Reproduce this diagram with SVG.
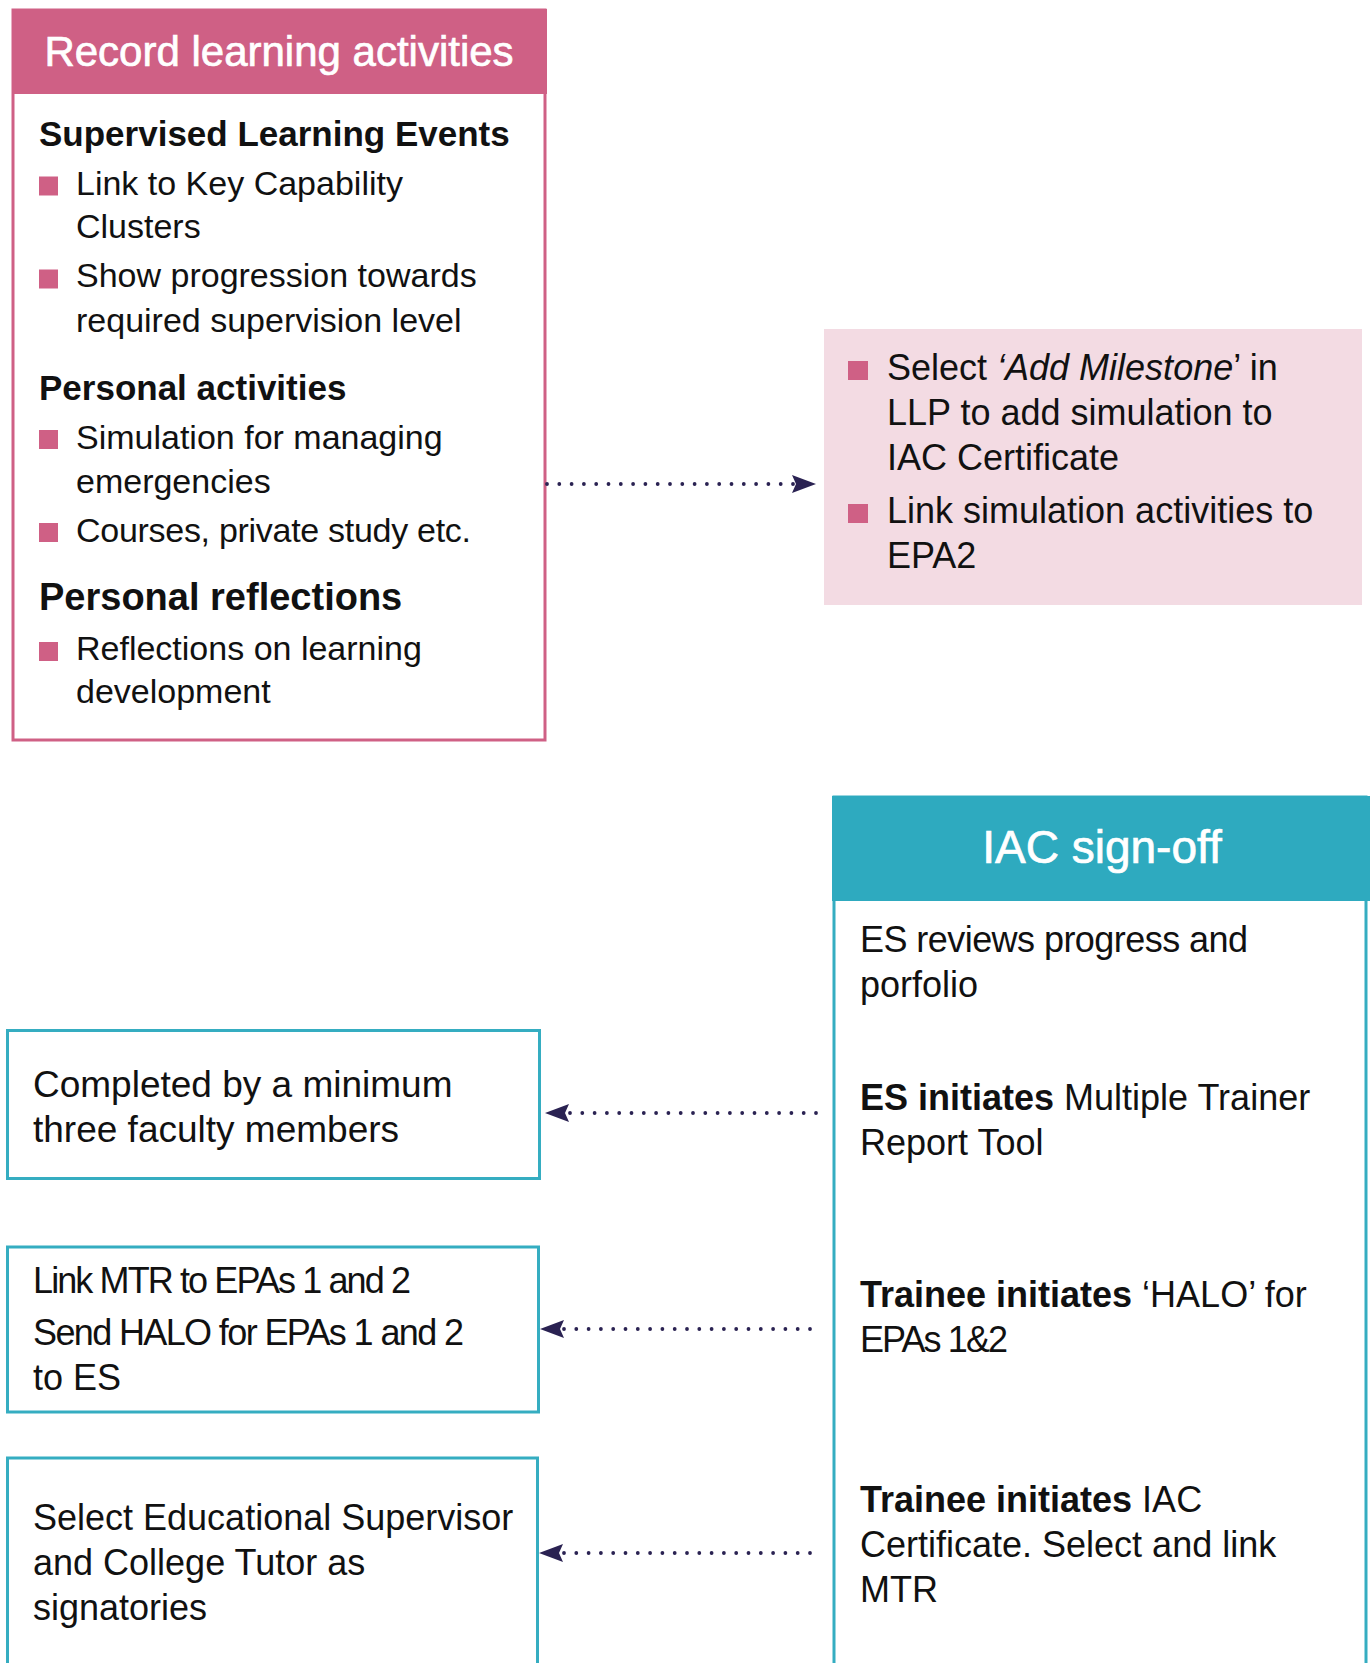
<svg xmlns="http://www.w3.org/2000/svg" width="1370" height="1663" viewBox="0 0 1370 1663">
  <style>
    text { font-family: "Liberation Sans", Arial, sans-serif; fill: #111; }
    .hdr { fill: #ffffff; text-anchor: middle; stroke: #ffffff; stroke-width: 0.7; }
    .h { font-weight: bold; }
    .b34 { font-size: 34px; }
    .b36 { font-size: 36px; }
    .bullet { fill: #cf6085; }
    .pinkbox { fill: #ffffff; stroke: #cf6085; stroke-width: 3; }
    .tealbox { fill: #ffffff; stroke: #35adc1; stroke-width: 3; }
    .conn { fill: none; stroke: #2a2252; stroke-width: 3.8; stroke-linecap: round; stroke-dasharray: 0 12.3; }
  </style>
  <defs>
    <marker id="arrow" markerUnits="userSpaceOnUse" markerWidth="25" markerHeight="19" refX="2" refY="9" orient="auto" viewBox="0 0 25 18">
      <path d="M0,0 L24,9 L0,18 L4,9 Z" fill="#2a2252"/>
    </marker>
  </defs>

  <rect width="1370" height="1663" fill="#ffffff"/>

  <g id="record-learning">
    <rect class="pinkbox" x="13" y="10" width="532" height="730"/>
    <rect x="12" y="9" width="535" height="85" fill="#cf6085"/>
    <text class="hdr" x="279" y="66" font-size="42">Record learning activities</text>
    <text class="h" x="39" y="146" font-size="35">Supervised Learning Events</text>
    <rect class="bullet" x="39" y="176.5" width="19" height="19"/>
    <text class="b34" x="76" y="195">Link to Key Capability</text>
    <text class="b34" x="76" y="238">Clusters</text>
    <rect class="bullet" x="39" y="269.5" width="19" height="19"/>
    <text class="b34" x="76" y="287">Show progression towards</text>
    <text class="b34" x="76" y="332">required supervision level</text>
    <text class="h" x="39" y="400" font-size="35">Personal activities</text>
    <rect class="bullet" x="39" y="430" width="19" height="19"/>
    <text class="b34" x="76" y="449">Simulation for managing</text>
    <text class="b34" x="76" y="493">emergencies</text>
    <rect class="bullet" x="39" y="523" width="19" height="19"/>
    <text class="b34" x="76" y="542" textLength="395" lengthAdjust="spacing">Courses, private study etc.</text>
    <text class="h" x="39" y="610" font-size="38">Personal reflections</text>
    <rect class="bullet" x="39" y="642" width="19" height="19"/>
    <text class="b34" x="76" y="660">Reflections on learning</text>
    <text class="b34" x="76" y="703">development</text>
  </g>

  <g id="add-milestone">
    <rect x="824" y="329" width="538" height="276" fill="#f3dbe3"/>
    <rect class="bullet" x="848" y="361" width="20" height="19"/>
    <text class="b36" x="887" y="380">Select <tspan font-style="italic">‘Add Milestone</tspan>’ in</text>
    <text class="b36" x="887" y="425">LLP to add simulation to</text>
    <text class="b36" x="887" y="470">IAC Certificate</text>
    <rect class="bullet" x="848" y="504" width="20" height="19"/>
    <text class="b36" x="887" y="523">Link simulation activities to</text>
    <text class="b36" x="887" y="568">EPA2</text>
  </g>

  <g id="iac-signoff">
    <rect class="tealbox" x="834" y="797" width="532" height="900"/>
    <rect x="832" y="796" width="540" height="105" fill="#2eaabf"/>
    <text class="hdr" x="1102" y="863" font-size="46">IAC sign-off</text>
    <text class="b36" x="860" y="952" textLength="388" lengthAdjust="spacing">ES reviews progress and</text>
    <text class="b36" x="860" y="997">porfolio</text>
    <text class="b36" x="860" y="1110"><tspan class="h">ES initiates</tspan> Multiple Trainer</text>
    <text class="b36" x="860" y="1155">Report Tool</text>
    <text class="b36" x="860" y="1307"><tspan class="h">Trainee initiates</tspan> ‘HALO’ for</text>
    <text class="b36" x="860" y="1352" textLength="148" lengthAdjust="spacing">EPAs 1&amp;2</text>
    <text class="b36" x="860" y="1512"><tspan class="h">Trainee initiates</tspan> IAC</text>
    <text class="b36" x="860" y="1557">Certificate. Select and link</text>
    <text class="b36" x="860" y="1602">MTR</text>
  </g>

  <g id="faculty">
    <rect class="tealbox" x="7.5" y="1030.5" width="532" height="148"/>
    <text x="33" y="1097" font-size="37">Completed by a minimum</text>
    <text x="33" y="1142" font-size="37">three faculty members</text>
  </g>

  <g id="link-mtr">
    <rect class="tealbox" x="7.5" y="1247" width="531" height="165"/>
    <text class="b36" x="33" y="1293" textLength="378" lengthAdjust="spacing">Link MTR to EPAs 1 and 2</text>
    <text class="b36" x="33" y="1345" textLength="431" lengthAdjust="spacing">Send HALO for EPAs 1 and 2</text>
    <text class="b36" x="33" y="1390">to ES</text>
  </g>

  <g id="signatories">
    <rect class="tealbox" x="7.5" y="1458" width="530" height="300"/>
    <text class="b36" x="33" y="1530">Select Educational Supervisor</text>
    <text class="b36" x="33" y="1575">and College Tutor as</text>
    <text class="b36" x="33" y="1620">signatories</text>
  </g>

  <g id="connectors">
    <line class="conn" x1="547" y1="484" x2="794" y2="484" marker-end="url(#arrow)"/>
    <line class="conn" x1="816" y1="1113" x2="567" y2="1113" marker-end="url(#arrow)"/>
    <line class="conn" x1="810" y1="1329" x2="562" y2="1329" marker-end="url(#arrow)"/>
    <line class="conn" x1="810" y1="1553" x2="561" y2="1553" marker-end="url(#arrow)"/>
  </g>
</svg>
